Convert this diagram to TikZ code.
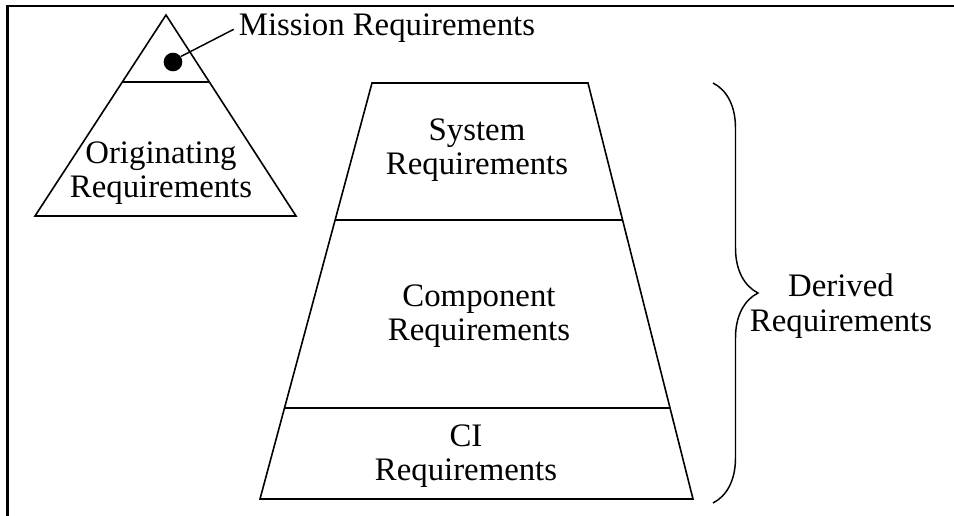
\documentclass[tikz,border=0pt]{standalone}
\usepackage{fontspec}
\setmainfont{Liberation Serif}
\usepackage{xcolor}
\usepackage{tikz}
\usetikzlibrary{shapes}
\usetikzlibrary{arrows.meta}
\usetikzlibrary{decorations.pathreplacing}

\tikzset{
  reqtext/.style={inner sep=0.75pt, font=\fontsize{24.6}{26}\selectfont, align=center},
  outline/.style={line width=1.2pt, line join=miter},
}

\begin{document}
\begin{tikzpicture}[x=0.75pt,y=0.75pt,yscale=-1,xscale=1]
		\useasboundingbox (0,0) rectangle (954,516);
		
		%Straight Lines [frame]
		\draw  [line width=2.2pt] (954,6) -- (7.5,6) -- (7.5,516) ;
		
		%Shape: Triangle [originating]
		\draw  [outline] (166,15) -- (296,216) -- (35,216) -- cycle ;
		%Straight Lines [mission top]
		\draw  [outline] (122,82) -- (210,82) ;
		
		%Shape: Trapezoid [derived]
		\draw  [outline] (372,83) -- (588,83) -- (693,499) -- (260,499) -- cycle ;
		%Straight Lines
		\draw  [outline] (335,220) -- (623,220) ;
		%Straight Lines
		\draw  [outline] (284,408) -- (670,408) ;
		
		%Shape: Brace
		\draw  [line width=1.1pt, decorate, decoration={brace, amplitude=33.75pt}] (713,83) -- (713,503) ;
		
		% Dot Node
		\node (dot) [circle, fill=black, inner sep=0pt, minimum size=14pt] at (173,62) {};
		% Text Node
		\node (mission) [reqtext] at (387,28) {Mission Requirements};
		% Text Node
		\node (originating) [reqtext] at (161,173) {Originating\\Requirements};
		% Text Node
		\node (system) [reqtext] at (477,150) {System\\Requirements};
		% Text Node
		\node (component) [reqtext] at (479,316) {Component\\Requirements};
		% Text Node
		\node (ci) [reqtext] at (466,456) {CI\\Requirements};
		% Text Node
		\node (derived) [reqtext] at (841,306) {Derived\\Requirements};
		
		%Straight Lines [leader]
		\draw  [line width=1.1pt] (dot.35) -- ([xshift=-3pt,yshift=1pt]mission.west) ;
		
	\end{tikzpicture}
\end{document}
